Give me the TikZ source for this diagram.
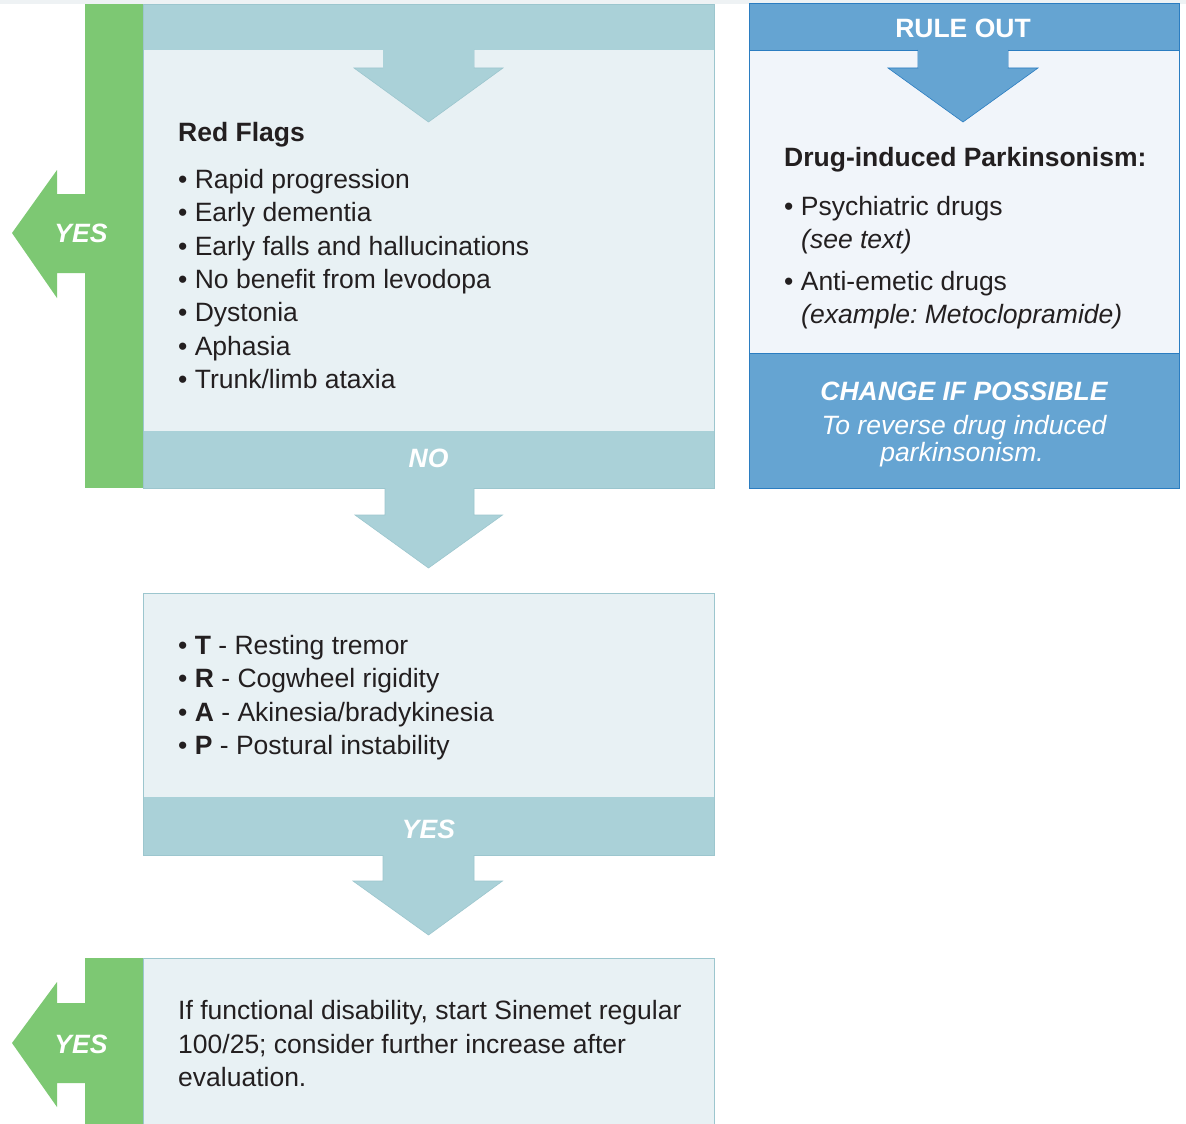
\documentclass[tikz,border=0pt]{standalone}
\usepackage{fontspec}
\setmainfont{Liberation Sans}
\frenchspacing
\definecolor{tband}{HTML}{AAD1D8}
\definecolor{tbody}{HTML}{E8F1F4}
\definecolor{tborder}{HTML}{9CC6CE}
\definecolor{gbar}{HTML}{7DC873}
\definecolor{bband}{HTML}{65A4D2}
\definecolor{bborder}{HTML}{2B7DC1}
\definecolor{bbody}{HTML}{F1F5FA}
\definecolor{txtc}{HTML}{231F20}
\definecolor{strip}{HTML}{EEF2F4}
\tikzset{
  txt/.style={font=\fontsize{26.5}{32}\selectfont, text=txtc, inner sep=0pt, anchor=base west},
  btxt/.style={txt, font=\fontsize{26.5}{32}\selectfont\bfseries},
  itxt/.style={txt, font=\fontsize{26.5}{32}\selectfont\itshape},
  wlab/.style={font=\fontsize{26.5}{32}\selectfont\bfseries\itshape, text=white, inner sep=0pt, anchor=base},
  wplain/.style={font=\fontsize{26.5}{32}\selectfont\bfseries, text=white, inner sep=0pt, anchor=base},
  wital/.style={font=\fontsize{26.5}{32}\selectfont\itshape, text=white, inner sep=0pt, anchor=base},
  tarrow/.style={fill=tband, draw=tborder, line width=0.6pt, line join=miter},
}
\begin{document}
\begin{tikzpicture}[x=1pt,y=-1pt]
\useasboundingbox (0,0) rectangle (1186,1124);
\fill[white] (0,0) rectangle (1186,1124);
\fill[strip] (0,0) rectangle (1186,4);

% ---------- Box 1: Red flags ----------
\fill[tbody] (143,4) rectangle (714,488);
\fill[tband] (143,4) rectangle (714,50);
\fill[tband] (143,431) rectangle (714,488);
\draw[tborder, line width=0.8pt] (143,4) rectangle (714,488);
\fill[gbar] (85,4) rectangle (143,488);
\fill[gbar] (12,233) -- (57,170) -- (57,194) -- (86,194) -- (86,273) -- (57,273) -- (57,298) -- cycle;
\node[wlab] (yes1) at (81,242.5) {YES};
\draw[tarrow] (383,50) -- (474,50) -- (474,68) -- (503,68) -- (428.5,122) -- (354,68) -- (383,68);
\fill[tband] (383.3,49) rectangle (473.7,68.5);

\node[btxt] (rfhead) at (178,141.5) {Red Flags};
\node[txt] (rf1) at (178,188.5) {\textbullet\ Rapid progression};
\node[txt] (rf2) at (178,221.5) {\textbullet\ Early dementia};
\node[txt] (rf3) at (178,255) {\textbullet\ Early falls and hallucinations};
\node[txt] (rf4) at (178,288) {\textbullet\ No benefit from levodopa};
\node[txt] (rf5) at (178,321.5) {\textbullet\ Dystonia};
\node[txt] (rf6) at (178,355) {\textbullet\ Aphasia};
\node[txt] (rf7) at (178,388) {\textbullet\ Trunk/limb ataxia};
\node[wlab] (no1) at (428.5,467.5) {NO};

% arrow box1 -> box2
\draw[tarrow] (385,488) -- (385,515) -- (355,515) -- (428.5,568) -- (502.5,515) -- (474,515) -- (474,488);

% ---------- Box 2: TRAP ----------
\fill[tbody] (143,593) rectangle (714,855);
\fill[tband] (143,797) rectangle (714,855);
\draw[tborder, line width=0.8pt] (143,593) rectangle (714,855);
\node[txt] (t1) at (178,654.5) {\textbullet\ \textbf{T} - Resting tremor};
\node[txt] (t2) at (178,687.5) {\textbullet\ \textbf{R} - Cogwheel rigidity};
\node[txt] (t3) at (178,721.5) {\textbullet\ \textbf{A} - Akinesia/bradykinesia};
\node[txt] (t4) at (178,754.5) {\textbullet\ \textbf{P} - Postural instability};
\node[wlab] (yes2) at (428.5,838.5) {YES};

% arrow box2 -> box3
\draw[tarrow] (383,855) -- (383,881) -- (353,881) -- (428.5,935) -- (502.5,881) -- (474,881) -- (474,855);

% ---------- Box 3 ----------
\fill[tbody] (143,958) rectangle (714,1124);
\draw[tborder, line width=0.8pt] (143,1124) -- (143,958) -- (714,958) -- (714,1124);
\fill[gbar] (85,958) rectangle (143,1124);
\fill[gbar] (12,1043) -- (57,982) -- (57,1003) -- (86,1003) -- (86,1083) -- (57,1083) -- (57,1107) -- cycle;
\node[wlab] (yes3) at (81,1053.5) {YES};
\node[txt] (s1) at (178,1019.5) {If functional disability, start Sinemet regular};
\node[txt] (s2) at (178,1053.5) {100/25; consider further increase after};
\node[txt] (s3) at (178,1086.5) {evaluation.};

% ---------- Right box: rule out ----------
\fill[bbody] (749,4) rectangle (1179,488);
\fill[bband] (749,4) rectangle (1179,50);
\fill[bband] (749,353) rectangle (1179,488);
\draw[bborder, line width=0.6pt] (749,50) -- (1179,50);
\draw[bborder, line width=0.6pt] (749,353) -- (1179,353);
\draw[bborder, line width=1pt] (749,4) rectangle (1179,488);
\node[wplain] (ruleout) at (963,37.5) {RULE OUT};
\draw[fill=bband, draw=bborder, line width=0.6pt, line join=miter] (918,50) -- (918,68) -- (888,68) -- (963,122) -- (1038,68) -- (1008,68) -- (1008,50);
\fill[bband] (918.3,49) rectangle (1007.7,68.3);

\node[btxt] (dip) at (784,166) {Drug-induced Parkinsonism:};
\node[txt] (d1) at (784,215.5) {\textbullet\ Psychiatric drugs};
\node[itxt] (d1b) at (801,248) {(see text)};
\node[txt] (d2) at (784,290.5) {\textbullet\ Anti-emetic drugs};
\node[itxt] (d2b) at (801,323.5) {(example: Metoclopramide)};
\node[wlab] (chg) at (964,400.5) {CHANGE IF POSSIBLE};
\node[wital] (rev1) at (964,434.5) {To reverse drug induced};
\node[wital] (rev2) at (962,461.5) {parkinsonism.};
\end{tikzpicture}
\end{document}
